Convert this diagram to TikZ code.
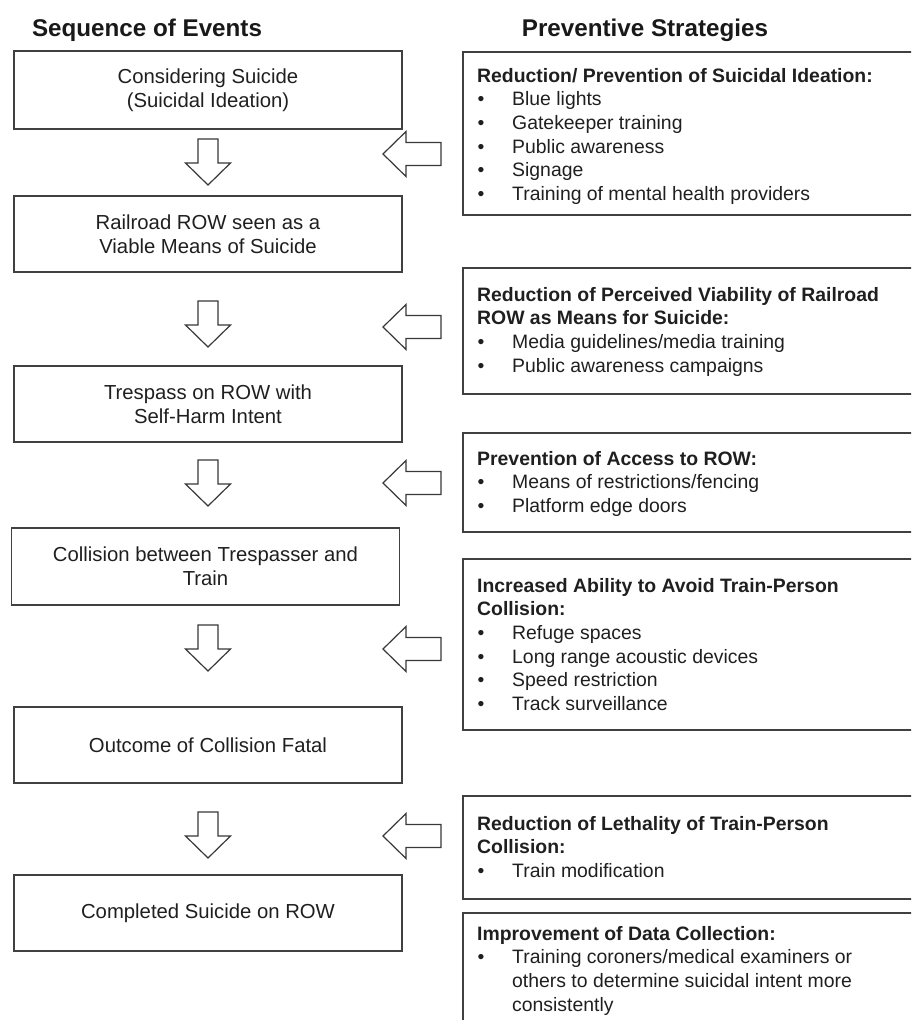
\documentclass[tikz,border=0pt]{standalone}
\usepackage{fontspec}
\setmainfont{Liberation Sans}
\newcommand\bul{\makebox[35pt][l]{\hspace{0.5pt}\textbullet}}
\newcommand\fst{\rule{0pt}{15pt}}
\begin{document}
\begin{tikzpicture}[x=1pt,y=-1pt,
  lbox/.style={draw=black!75, line width=1.5pt, minimum width=388pt, minimum height=76pt, inner sep=0pt, align=center, font=\fontsize{20.3}{23.6}\selectfont, text=black!88},
  rbox/.style={draw=black!75, line width=1.5pt, anchor=north west, minimum width=470pt, inner sep=0pt},
  rtext/.style={anchor=north west, inner sep=0pt, align=left, font=\fontsize{19.4}{23.6}\selectfont, text=black!88},
  ttl/.style={anchor=base, inner sep=0pt, font=\bfseries\fontsize{24.2}{28}\selectfont, text=black!90},
  blk/.style={draw=black!78, line width=1.2pt, fill=white, line join=miter},
  downarrow/.pic={\draw[blk] (-10,0) -- (10,0) -- (10,24) -- (22.5,24) -- (0,46) -- (-22.5,24) -- (-10,24) -- cycle;},
  leftarrow/.pic={\draw[blk] (0,0) -- (23,-22.5) -- (23,-11.5) -- (58,-11.5) -- (58,11.5) -- (23,11.5) -- (23,22.5) -- cycle;}
]
\useasboundingbox (0,0) rectangle (911,1020);
\clip (0,0) rectangle (911,1020);

% titles
\node[ttl] (h1) at (147,36) {Sequence of Events};
\node[ttl] (h2) at (645,36) {Preventive Strategies};

% sequence of events
\node[lbox, minimum height=78pt] (e1) at (208,90) {Considering Suicide\\(Suicidal Ideation)};
\node[lbox] (e2) at (208,234) {Railroad ROW seen as a\\Viable Means of Suicide};
\node[lbox] (e3) at (208,404) {Trespass on ROW with\\Self-Harm Intent};
\node[lbox, minimum height=77pt] (e4) at (205.5,566.5) {Collision between Trespasser and\\Train};
\node[lbox] (e5) at (208,745) {Outcome of Collision Fatal};
\node[lbox] (e6) at (208,913) {Completed Suicide on ROW};

% down arrows
\pic (d1) at (208,139) {downarrow};
\pic (d2) at (208,301) {downarrow};
\pic (d3) at (208,460) {downarrow};
\pic (d4) at (208,625) {downarrow};
\pic (d5) at (208,812) {downarrow};

% left arrows
\pic (a1) at (383,154) {leftarrow};
\pic (a2) at (383,327) {leftarrow};
\pic (a3) at (383,483) {leftarrow};
\pic (a4) at (383,649) {leftarrow};
\pic (a5) at (383,836) {leftarrow};

% strategy boxes
\node[rbox, minimum height=163pt] (r1) at (462,51) {};
\node[rbox, minimum height=126pt] (r2) at (462,267) {};
\node[rbox, minimum height=99pt] (r3) at (462,432) {};
\node[rbox, minimum height=171pt] (r4) at (462,558) {};
\node[rbox, minimum height=103pt] (r5) at (462,795) {};
\node[rbox, minimum height=140pt] (r6) at (462,912) {};

\node[rtext] (t1) at (477,67) {\fst\textbf{Reduction/ Prevention of Suicidal Ideation:}\\
\bul Blue lights\\
\bul Gatekeeper training\\
\bul Public awareness\\
\bul Signage\\
\bul Training of mental health providers};

\node[rtext] (t2) at (477,286) {\fst\textbf{Reduction of Perceived Viability of Railroad}\\
\textbf{ROW as Means for Suicide:}\\
\bul Media guidelines/media training\\
\bul Public awareness campaigns};

\node[rtext] (t3) at (477,450) {\fst\textbf{Prevention of Access to ROW:}\\
\bul Means of restrictions/fencing\\
\bul Platform edge doors};

\node[rtext] (t4) at (477,577) {\fst\textbf{Increased Ability to Avoid Train-Person}\\
\textbf{Collision:}\\
\bul Refuge spaces\\
\bul Long range acoustic devices\\
\bul Speed restriction\\
\bul Track surveillance};

\node[rtext] (t5) at (477,815) {\fst\textbf{Reduction of Lethality of Train-Person}\\
\textbf{Collision:}\\
\bul Train modification};

\node[rtext] (t6) at (477,925) {\fst\textbf{Improvement of Data Collection:}\\
\bul Training coroners/medical examiners or\\
\hspace*{35pt}others to determine suicidal intent more\\
\hspace*{35pt}consistently};
\end{tikzpicture}
\end{document}
